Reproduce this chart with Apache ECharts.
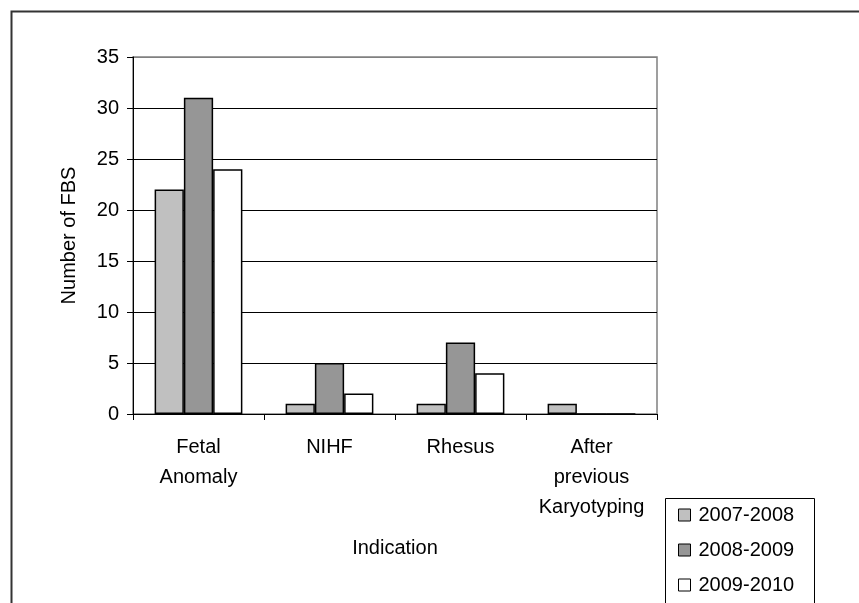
<!DOCTYPE html>
<html><head><meta charset="utf-8">
<script src="https://cdn.jsdelivr.net/npm/echarts@6/dist/echarts.min.js"></script>
<style>html,body{margin:0;padding:0;background:#fff}#c{width:859px;height:603px}</style>
</head><body><div id="c"></div>
<script>
var categories = ["Fetal\nAnomaly", "NIHF", "Rhesus", "After\nprevious\nKaryotyping"];
var seriesNames = ["2007-2008", "2008-2009", "2009-2010"];
var s2007 = [22, 1, 1, 1];
var s2008 = [31, 5, 7, 0];
var s2009 = [24, 2, 4, 0];
var colors = ["#C0C0C0", "#969696", "#FFFFFF"];
var FONT = "Liberation Sans, Arial, sans-serif";
var FS = 20;

var chart = echarts.init(document.getElementById('c'), null, {renderer: 'canvas'});
function mk(name, data, color) {
  return {
    name: name, type: 'bar', data: data, barGap: '0%', barCategoryGap: '33%',
    itemStyle: {color: color, borderColor: '#000', borderWidth: 1.5},
    emphasis: {disabled: true}, animation: false
  };
}
chart.setOption({
  animation: false,
  textStyle: {fontFamily: FONT},
  grid: {left: 133, top: 57, right: 202, bottom: 189, show: true, borderColor: '#808080', borderWidth: 1.5, backgroundColor: 'transparent'},
  xAxis: {
    type: 'category', data: categories,
    name: 'Indication', nameLocation: 'middle', nameGap: 124,
    nameTextStyle: {fontSize: FS, color: '#000', fontFamily: FONT},
    axisLine: {lineStyle: {color: '#000', width: 1}},
    axisTick: {show: true, length: 6, lineStyle: {color: '#000'}, alignWithLabel: false},
    axisLabel: {fontSize: FS, color: '#000', margin: 18, lineHeight: 30, fontFamily: FONT, interval: 0},
    splitLine: {show: false}
  },
  yAxis: {
    type: 'value', min: 0, max: 35, interval: 5,
    name: 'Number of FBS', nameLocation: 'middle', nameGap: 54, nameRotate: 90,
    nameTextStyle: {fontSize: FS, color: '#000', fontFamily: FONT},
    axisLine: {show: true, lineStyle: {color: '#000', width: 1}},
    axisTick: {show: true, length: 6, lineStyle: {color: '#000'}},
    axisLabel: {fontSize: FS, color: '#000', margin: 14, fontFamily: FONT},
    splitLine: {show: true, lineStyle: {color: ['#000','#000','#000','#000','#000','#000','#000','#808080'], width: 1}}
  },
  legend: {
    orient: 'vertical', left: 673, top: 500, height: 140, itemWidth: 12, itemHeight: 12, itemGap: 15,
    data: seriesNames.map(function(n){return {name: n, icon: 'rect'};}),
    itemStyle: {borderColor: '#000', borderWidth: 1},
    textStyle: {fontSize: FS, lineHeight: 20, color: '#000', fontFamily: FONT, padding: [0,0,0,3]},
    selectedMode: false
  },
  graphic: [
    {type: 'rect', left: 9, top: 9, shape: {width: 900, height: 700}, style: {fill: 'none', stroke: '#333', lineWidth: 2}, silent: true, z: -1},
    {type: 'rect', left: 663, top: 496, shape: {width: 149, height: 130}, style: {fill: 'none', stroke: '#000', lineWidth: 1}, silent: true}
  ],
  series: [mk(seriesNames[0], s2007, colors[0]), mk(seriesNames[1], s2008, colors[1]), mk(seriesNames[2], s2009, colors[2])]
});
</script>
</body></html>
